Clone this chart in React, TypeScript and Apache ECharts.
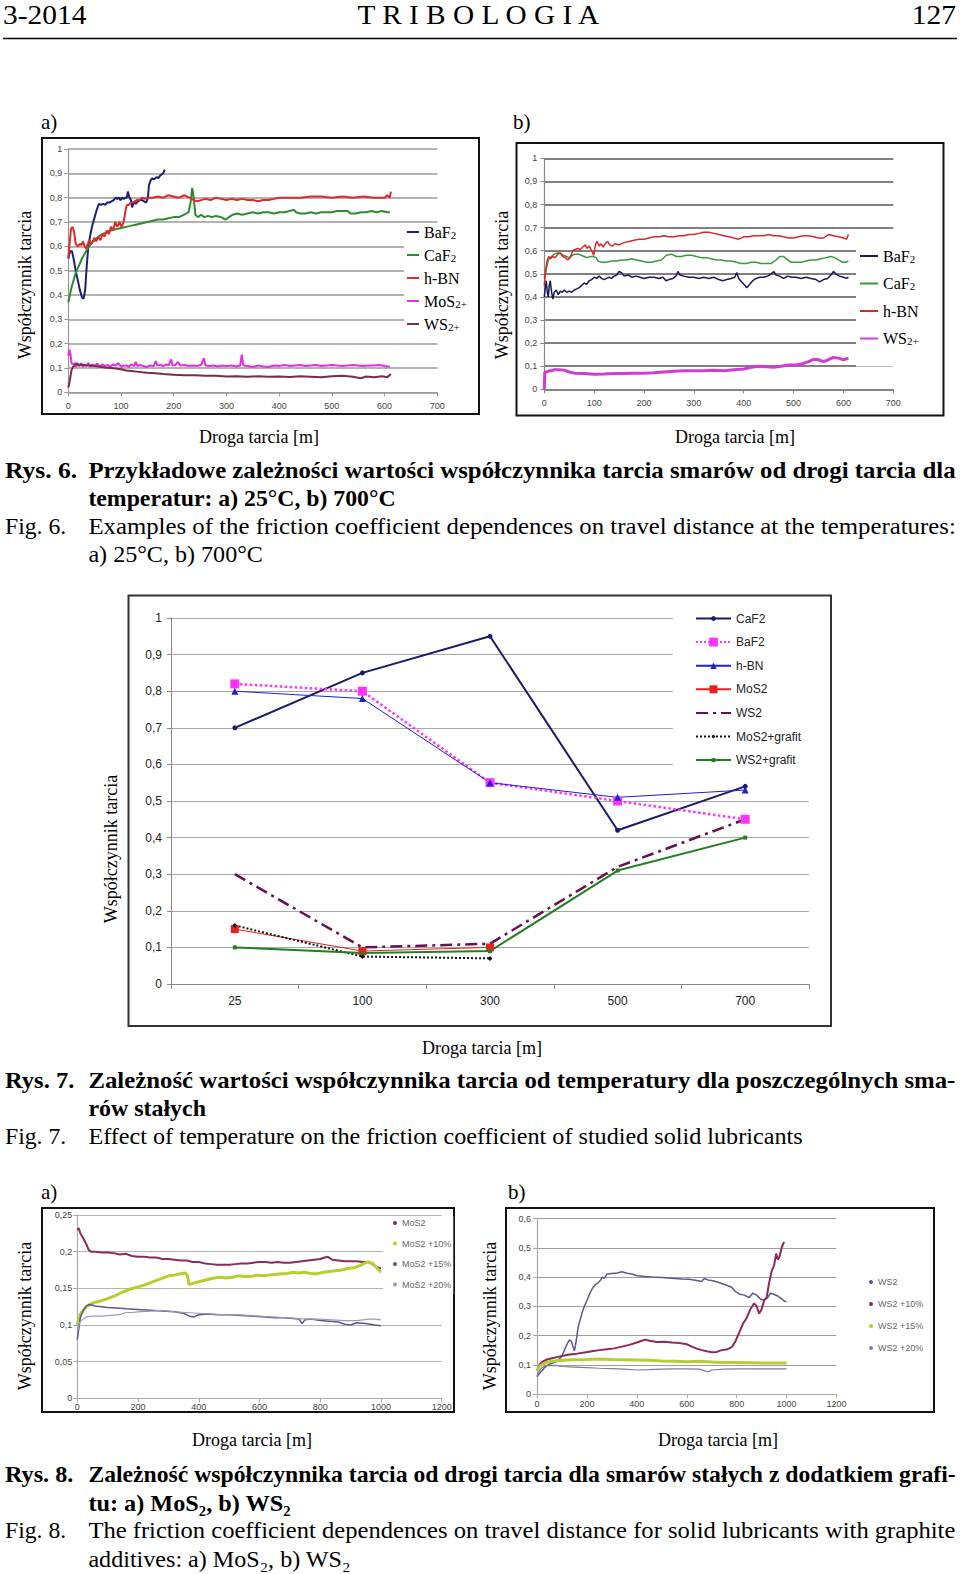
import React, { useEffect, useRef } from 'react';
import * as echarts from 'echarts';

type P = [number, number];

const SERIF = "'Liberation Serif', 'Times New Roman', serif";
const SANS = "'Liberation Sans', Arial, sans-serif";

// ---------- Fig. 6a (25 °C) ----------
const f6aBaF2: P[] = [[0,0.55],[2,0.57],[4,0.58],[7,0.58],[10,0.55],[14,0.5],[18,0.46],[22,0.42],[26,0.39],[29,0.385],[32,0.42],[35,0.52],[38,0.6],[42,0.65],[46,0.69],[50,0.72],[54,0.75],[58,0.775],[62,0.77],[66,0.775],[70,0.77],[74,0.78],[78,0.78],[82,0.785],[86,0.79],[90,0.8],[93,0.795],[96,0.8],[99,0.79],[102,0.8],[105,0.795],[108,0.8],[111,0.8],[113,0.825],[116,0.8],[119,0.79],[121,0.76],[124,0.78],[128,0.775],[132,0.785],[136,0.79],[140,0.79],[144,0.785],[148,0.78],[151,0.8],[153,0.85],[156,0.87],[159,0.88],[162,0.875],[165,0.88],[168,0.885],[171,0.88],[174,0.89],[177,0.895],[180,0.9],[183,0.915]];
const f6aCaF2: P[] = [[0,0.37],[3,0.4],[6,0.43],[10,0.46],[14,0.49],[18,0.51],[22,0.53],[26,0.55],[30,0.565],[35,0.585],[40,0.6],[45,0.615],[50,0.625],[55,0.635],[60,0.645],[65,0.65],[70,0.655],[75,0.66],[80,0.665],[90,0.67],[100,0.675],[110,0.68],[120,0.685],[130,0.69],[140,0.695],[150,0.7],[160,0.705],[170,0.71],[180,0.71],[190,0.715],[200,0.72],[210,0.72],[220,0.73],[228,0.74],[232,0.78],[235,0.84],[238,0.8],[241,0.73],[246,0.72],[252,0.73],[258,0.72],[265,0.725],[272,0.72],[280,0.725],[290,0.72],[298,0.71],[305,0.72],[312,0.73],[320,0.735],[330,0.73],[340,0.735],[350,0.74],[360,0.735],[370,0.74],[380,0.74],[390,0.735],[400,0.74],[410,0.74],[420,0.745],[428,0.75],[432,0.74],[440,0.735],[450,0.735],[460,0.74],[470,0.735],[480,0.74],[490,0.74],[500,0.74],[510,0.745],[520,0.745],[530,0.745],[535,0.735],[545,0.735],[555,0.74],[565,0.74],[575,0.745],[585,0.74],[595,0.745],[605,0.74],[610,0.74]];
const f6aHBN: P[] = [[0,0.55],[2,0.6],[5,0.67],[8,0.68],[11,0.66],[14,0.61],[18,0.6],[22,0.61],[25,0.605],[28,0.62],[31,0.6],[34,0.59],[37,0.61],[40,0.625],[43,0.61],[46,0.62],[50,0.635],[53,0.62],[57,0.64],[61,0.625],[65,0.65],[69,0.64],[73,0.665],[77,0.65],[81,0.68],[85,0.665],[89,0.7],[93,0.68],[97,0.7],[101,0.68],[105,0.7],[108,0.74],[111,0.77],[115,0.77],[118,0.78],[122,0.78],[126,0.785],[130,0.79],[135,0.79],[140,0.8],[145,0.795],[150,0.8],[160,0.8],[170,0.805],[180,0.8],[190,0.81],[200,0.805],[210,0.8],[220,0.81],[230,0.8],[238,0.79],[245,0.785],[252,0.79],[260,0.795],[270,0.79],[280,0.8],[290,0.795],[300,0.79],[310,0.795],[320,0.79],[330,0.795],[340,0.79],[350,0.79],[360,0.785],[370,0.79],[380,0.79],[390,0.795],[400,0.8],[420,0.8],[440,0.8],[460,0.805],[480,0.805],[500,0.8],[520,0.805],[540,0.8],[560,0.805],[580,0.8],[600,0.8],[605,0.81],[610,0.8],[612,0.825]];
const f6aMoS2: P[] = [[0,0.15],[2,0.175],[4,0.16],[6,0.12],[9,0.115],[12,0.12],[15,0.105],[18,0.118],[21,0.108],[24,0.12],[27,0.105],[30,0.115],[34,0.11],[38,0.12],[42,0.105],[46,0.115],[50,0.108],[55,0.118],[60,0.105],[65,0.115],[70,0.108],[75,0.112],[80,0.105],[85,0.115],[90,0.11],[95,0.12],[100,0.105],[105,0.11],[110,0.11],[115,0.105],[120,0.115],[125,0.108],[128,0.125],[131,0.108],[136,0.112],[142,0.108],[148,0.104],[155,0.11],[162,0.108],[166,0.128],[169,0.11],[175,0.112],[180,0.108],[186,0.115],[190,0.11],[195,0.135],[198,0.11],[203,0.112],[208,0.125],[212,0.11],[220,0.112],[228,0.108],[236,0.11],[244,0.108],[252,0.112],[257,0.14],[260,0.11],[268,0.108],[276,0.11],[284,0.106],[292,0.11],[300,0.108],[310,0.11],[318,0.106],[326,0.11],[329,0.155],[332,0.11],[340,0.108],[350,0.104],[360,0.11],[370,0.106],[380,0.104],[390,0.11],[400,0.108],[410,0.112],[420,0.108],[430,0.11],[440,0.112],[450,0.108],[460,0.11],[470,0.112],[480,0.108],[490,0.11],[500,0.112],[510,0.11],[520,0.108],[530,0.11],[540,0.112],[550,0.11],[560,0.108],[570,0.11],[580,0.11],[590,0.112],[600,0.108],[610,0.105]];
const f6aWS2: P[] = [[0,0.02],[3,0.05],[6,0.09],[9,0.105],[12,0.11],[16,0.12],[20,0.11],[25,0.115],[30,0.11],[40,0.11],[50,0.108],[60,0.105],[70,0.102],[80,0.1],[90,0.098],[100,0.095],[110,0.09],[120,0.088],[130,0.085],[140,0.082],[150,0.08],[165,0.078],[180,0.075],[200,0.072],[220,0.07],[240,0.07],[260,0.068],[280,0.068],[300,0.065],[320,0.066],[340,0.064],[360,0.066],[380,0.064],[400,0.065],[420,0.063],[440,0.066],[460,0.064],[480,0.062],[500,0.066],[520,0.068],[540,0.064],[555,0.058],[565,0.065],[580,0.062],[595,0.066],[605,0.062],[612,0.075]];

// ---------- Fig. 6b (700 °C) ----------
const f6bHBN: P[] = [[0,0.45],[3,0.52],[6,0.56],[9,0.575],[13,0.565],[17,0.575],[22,0.57],[27,0.585],[32,0.59],[37,0.575],[42,0.57],[47,0.56],[52,0.57],[57,0.6],[62,0.605],[67,0.61],[72,0.605],[77,0.615],[82,0.625],[86,0.61],[90,0.62],[95,0.6],[99,0.58],[103,0.63],[106,0.64],[110,0.62],[114,0.63],[118,0.615],[122,0.63],[127,0.64],[131,0.625],[136,0.62],[142,0.63],[150,0.625],[160,0.635],[170,0.64],[180,0.645],[190,0.65],[200,0.65],[210,0.655],[220,0.66],[230,0.66],[240,0.665],[250,0.66],[260,0.66],[270,0.665],[280,0.665],[290,0.67],[300,0.67],[310,0.675],[320,0.68],[330,0.68],[340,0.675],[350,0.67],[360,0.665],[370,0.66],[380,0.655],[390,0.65],[400,0.66],[410,0.66],[420,0.665],[430,0.665],[440,0.665],[450,0.67],[460,0.665],[470,0.665],[480,0.66],[490,0.655],[500,0.655],[510,0.66],[520,0.665],[530,0.665],[540,0.66],[550,0.655],[560,0.655],[570,0.67],[580,0.665],[590,0.66],[600,0.655],[606,0.65],[610,0.67]];
const f6bCaF2: P[] = [[0,0.48],[4,0.52],[8,0.56],[14,0.575],[20,0.585],[26,0.59],[32,0.59],[38,0.58],[44,0.575],[50,0.57],[56,0.58],[62,0.585],[68,0.585],[74,0.58],[80,0.575],[86,0.57],[92,0.575],[98,0.575],[104,0.57],[108,0.555],[115,0.55],[125,0.55],[135,0.555],[145,0.555],[155,0.56],[165,0.56],[175,0.565],[185,0.56],[195,0.555],[205,0.55],[215,0.55],[225,0.555],[235,0.56],[245,0.58],[255,0.585],[265,0.575],[275,0.575],[285,0.58],[295,0.58],[305,0.575],[315,0.57],[325,0.57],[335,0.565],[345,0.56],[355,0.56],[365,0.555],[375,0.555],[385,0.55],[395,0.545],[405,0.545],[415,0.55],[425,0.55],[435,0.545],[445,0.545],[455,0.545],[465,0.56],[472,0.575],[480,0.575],[488,0.56],[495,0.55],[505,0.55],[515,0.55],[525,0.555],[535,0.56],[545,0.56],[555,0.565],[565,0.57],[575,0.575],[582,0.57],[590,0.56],[598,0.55],[605,0.55],[610,0.555]];
const f6bBaF2: P[] = [[0,0.4],[2,0.44],[4,0.47],[6,0.42],[8,0.4],[10,0.45],[12,0.47],[14,0.43],[17,0.39],[20,0.42],[24,0.43],[28,0.41],[32,0.425],[36,0.42],[40,0.43],[45,0.42],[50,0.425],[55,0.42],[60,0.43],[65,0.435],[70,0.44],[75,0.45],[80,0.46],[85,0.455],[90,0.47],[95,0.475],[100,0.485],[105,0.48],[110,0.49],[115,0.48],[120,0.475],[125,0.48],[130,0.485],[135,0.48],[140,0.49],[145,0.495],[150,0.51],[155,0.505],[160,0.49],[168,0.495],[176,0.485],[184,0.49],[192,0.485],[200,0.48],[210,0.485],[220,0.485],[230,0.48],[238,0.485],[244,0.47],[250,0.475],[258,0.48],[264,0.49],[268,0.51],[272,0.495],[280,0.49],[290,0.485],[300,0.485],[310,0.48],[320,0.485],[330,0.48],[340,0.485],[350,0.475],[358,0.47],[366,0.475],[375,0.48],[382,0.485],[386,0.505],[390,0.48],[396,0.465],[402,0.45],[406,0.44],[412,0.455],[418,0.47],[425,0.48],[432,0.485],[440,0.485],[448,0.49],[455,0.5],[460,0.51],[465,0.495],[472,0.49],[480,0.48],[488,0.49],[496,0.485],[505,0.485],[515,0.48],[525,0.485],[535,0.48],[545,0.475],[552,0.465],[560,0.475],[568,0.48],[575,0.495],[580,0.51],[585,0.5],[592,0.49],[600,0.485],[606,0.48],[610,0.485]];
const f6bWS2: P[] = [[0,0],[1,0.075],[5,0.075],[10,0.08],[15,0.08],[20,0.085],[30,0.085],[40,0.083],[50,0.075],[60,0.07],[80,0.068],[100,0.065],[120,0.066],[140,0.068],[160,0.068],[180,0.07],[200,0.07],[220,0.072],[240,0.075],[260,0.078],[280,0.08],[300,0.08],[320,0.08],[340,0.082],[360,0.08],[380,0.085],[400,0.088],[415,0.095],[430,0.1],[445,0.098],[460,0.095],[475,0.1],[490,0.105],[505,0.105],[520,0.112],[530,0.12],[540,0.13],[550,0.128],[560,0.12],[570,0.128],[580,0.138],[590,0.135],[600,0.128],[610,0.135]];

// ---------- Fig. 7 ----------
const f7Temps = ['25', '100', '300', '500', '700'];
const f7CaF2 = [0.7, 0.85, 0.95, 0.42, 0.54];
const f7BaF2 = [0.82, 0.8, 0.55, 0.5, 0.45];
const f7HBN = [0.8, 0.78, 0.55, 0.51, 0.53];
const f7MoS2 = [0.15, 0.09, 0.1];
const f7WS2 = [0.3, 0.1, 0.11, 0.32, 0.45];
const f7MoS2G = [0.16, 0.075, 0.07];
const f7WS2G = [0.1, 0.085, 0.09, 0.31, 0.4];

// ---------- Fig. 8a (MoS2 + graphite) ----------
const f8aMoS2: P[] = [[0,0.23],[5,0.232],[10,0.225],[20,0.218],[30,0.21],[38,0.202],[45,0.2],[60,0.2],[80,0.199],[100,0.199],[120,0.198],[140,0.196],[160,0.197],[180,0.194],[200,0.193],[220,0.193],[240,0.192],[260,0.192],[280,0.19],[300,0.19],[320,0.189],[340,0.188],[360,0.188],[380,0.186],[400,0.186],[420,0.184],[440,0.183],[460,0.182],[480,0.182],[500,0.182],[520,0.183],[540,0.184],[560,0.184],[580,0.185],[600,0.186],[620,0.186],[640,0.185],[660,0.186],[680,0.185],[700,0.185],[720,0.186],[740,0.187],[760,0.188],[780,0.189],[800,0.19],[815,0.192],[825,0.193],[840,0.189],[860,0.188],[880,0.187],[900,0.187],[920,0.187],[940,0.186],[960,0.186],[975,0.182],[990,0.178],[1000,0.177]];
const f8aMoS2_10: P[] = [[0,0.1],[5,0.108],[10,0.115],[20,0.12],[30,0.125],[50,0.13],[70,0.132],[100,0.136],[125,0.14],[150,0.145],[175,0.149],[200,0.152],[225,0.155],[250,0.159],[275,0.163],[300,0.167],[320,0.168],[340,0.17],[355,0.171],[362,0.168],[368,0.155],[375,0.156],[390,0.158],[410,0.16],[430,0.162],[450,0.164],[470,0.165],[490,0.164],[510,0.165],[530,0.167],[550,0.166],[570,0.166],[590,0.168],[610,0.167],[630,0.168],[650,0.169],[670,0.17],[690,0.17],[710,0.172],[730,0.171],[750,0.172],[770,0.17],[790,0.17],[810,0.172],[830,0.173],[850,0.174],[870,0.175],[890,0.177],[910,0.178],[930,0.181],[950,0.185],[960,0.186],[975,0.183],[990,0.176],[1000,0.172]];
const f8aMoS2_15: P[] = [[0,0.08],[5,0.095],[10,0.11],[20,0.12],[30,0.126],[40,0.128],[60,0.126],[80,0.125],[100,0.124],[130,0.123],[160,0.122],[200,0.121],[240,0.12],[280,0.119],[320,0.118],[350,0.116],[370,0.112],[385,0.111],[400,0.114],[430,0.115],[460,0.114],[500,0.114],[540,0.113],[580,0.112],[620,0.111],[650,0.11],[680,0.11],[710,0.109],[730,0.108],[740,0.102],[750,0.107],[770,0.108],[800,0.106],[830,0.105],[860,0.104],[880,0.101],[900,0.1],[920,0.103],[950,0.102],[980,0.1],[1000,0.099]];
const f8aMoS2_20: P[] = [[0,0.09],[5,0.1],[10,0.105],[20,0.108],[30,0.111],[50,0.112],[80,0.112],[110,0.113],[140,0.114],[160,0.117],[180,0.117],[200,0.118],[240,0.119],[280,0.12],[320,0.118],[360,0.117],[400,0.116],[440,0.115],[480,0.114],[520,0.114],[560,0.113],[600,0.112],[640,0.111],[680,0.11],[720,0.109],[760,0.108],[800,0.108],[840,0.107],[880,0.106],[920,0.106],[960,0.108],[980,0.108],[1000,0.107]];

// ---------- Fig. 8b (WS2 + graphite) ----------
const f8bWS2: P[] = [[0,0.06],[10,0.07],[20,0.08],[30,0.09],[45,0.1],[60,0.105],[75,0.11],[90,0.12],[100,0.13],[110,0.15],[120,0.17],[130,0.185],[138,0.18],[145,0.16],[150,0.148],[155,0.17],[165,0.23],[175,0.26],[185,0.29],[195,0.31],[205,0.33],[215,0.35],[225,0.365],[235,0.375],[245,0.38],[255,0.39],[262,0.4],[270,0.395],[280,0.41],[300,0.412],[320,0.414],[340,0.418],[360,0.413],[380,0.41],[400,0.404],[430,0.402],[460,0.4],[500,0.398],[540,0.396],[580,0.393],[610,0.392],[640,0.388],[660,0.385],[670,0.395],[685,0.39],[700,0.388],[720,0.384],[740,0.378],[760,0.372],[780,0.365],[795,0.35],[810,0.342],[830,0.338],[850,0.33],[865,0.345],[880,0.338],[895,0.325],[910,0.32],[925,0.33],[935,0.345],[950,0.34],[965,0.335],[980,0.325],[990,0.318],[1000,0.315]];
const f8bWS2_10: P[] = [[0,0.08],[10,0.1],[20,0.11],[40,0.118],[60,0.122],[80,0.126],[100,0.13],[130,0.135],[160,0.138],[190,0.142],[220,0.146],[250,0.15],[280,0.153],[310,0.156],[340,0.162],[370,0.168],[400,0.176],[420,0.182],[435,0.186],[450,0.182],[480,0.178],[510,0.179],[540,0.176],[570,0.174],[600,0.17],[620,0.162],[640,0.155],[660,0.15],[680,0.146],[700,0.143],[720,0.144],[740,0.15],[760,0.152],[780,0.16],[795,0.18],[810,0.21],[825,0.24],[840,0.26],[855,0.29],[870,0.31],[880,0.3],[890,0.275],[900,0.29],[910,0.32],[920,0.33],[930,0.38],[940,0.42],[950,0.44],[958,0.48],[965,0.46],[972,0.47],[980,0.5],[990,0.52]];
const f8bWS2_15: P[] = [[0,0.08],[10,0.095],[20,0.1],[40,0.108],[60,0.112],[100,0.115],[150,0.117],[200,0.118],[250,0.12],[300,0.118],[350,0.117],[400,0.116],[450,0.115],[500,0.113],[550,0.112],[600,0.11],[650,0.112],[700,0.109],[750,0.108],[800,0.108],[850,0.107],[900,0.106],[950,0.106],[1000,0.106]];
const f8bWS2_20: P[] = [[0,0.06],[10,0.08],[20,0.09],[40,0.097],[60,0.098],[80,0.097],[100,0.094],[150,0.092],[200,0.09],[250,0.088],[300,0.087],[350,0.085],[400,0.082],[450,0.083],[500,0.085],[550,0.086],[600,0.086],[650,0.085],[670,0.08],[685,0.075],[700,0.082],[750,0.085],[800,0.086],[850,0.086],[900,0.086],[950,0.086],[1000,0.086]];

const C = {
  navy: '#1c1f78', green: '#2e8c2e', red: '#e02a2a', magenta: '#e030e0', maroon: '#7a2c4c',
  navyB: '#1a1a5c', greenB: '#3a9a3a', redB: '#d42a2a', magentaB: '#d23cd2',
  f8dark: '#5a5a8c', f8wine: '#8c2a5a', f8lime: '#b4d02e', f8light: '#9c9abc', f8gray: '#7c7c9c',
};

const comma = (v: number) => String(Math.round(v * 1000) / 1000).replace('.', ',');

let ctx: CanvasRenderingContext2D | null = null;
function measure(text: string, font: string): number {
  if (!ctx) ctx = document.createElement('canvas').getContext('2d');
  if (!ctx) return text.length * 10;
  ctx.font = font;
  return ctx.measureText(text).width;
}

function fitText(text: string, x0: number, x1: number, yc: number, size: number, bold: boolean, justify: boolean) {
  const weight = bold ? 'bold' : 'normal';
  const w = measure(text, `${weight} ${size}px "Liberation Serif"`);
  let s = (x1 - x0) / w;
  if (!justify) s = Math.min(Math.max(s, 0.9), 1.12);
  return {
    type: 'text', x: x0, y: yc, scaleX: s, silent: true,
    style: { text, fontSize: size, fontWeight: weight, fontFamily: SERIF, fill: '#000', align: 'left', verticalAlign: 'middle' },
  };
}

function plainText(text: string, x: number, y: number, size: number, align = 'left', rotation = 0) {
  return {
    type: 'text', x, y, rotation, silent: true,
    style: { text, fontSize: size, fontFamily: SERIF, fill: '#000', align, verticalAlign: 'middle' },
  };
}

function frame(x: number, y: number, w: number, h: number, color = '#111') {
  return { type: 'rect', silent: true, shape: { x, y, width: w, height: h }, style: { fill: 'none', stroke: color, lineWidth: 2 } };
}

const smallLabel = { fontFamily: SANS, fontSize: 9, color: '#444' };

function valX(gi: number, max: number, interval: number, margin: number, color: string) {
  return {
    type: 'value', gridIndex: gi, min: 0, max, interval,
    axisLine: { show: true, onZero: false, lineStyle: { color, width: 1.2 } },
    axisTick: { show: true, length: 4, lineStyle: { color } },
    axisLabel: { ...smallLabel, margin, formatter: (v: number) => String(v) },
    splitLine: { show: false },
  };
}
function valY(gi: number, max: number, interval: number, margin: number, color: string, gridColor: string, gridWidth: number) {
  return {
    type: 'value', gridIndex: gi, min: 0, max, interval,
    axisLine: { show: true, lineStyle: { color, width: 1.2 } },
    axisTick: { show: true, length: 4, lineStyle: { color } },
    axisLabel: { ...smallLabel, margin, formatter: comma },
    splitLine: { show: true, lineStyle: { color: gridColor, width: gridWidth } },
  };
}

function noisy(name: string, gi: number, data: P[], color: string, width: number) {
  return {
    name, type: 'line', xAxisIndex: gi, yAxisIndex: gi, data,
    symbol: 'none', showSymbol: false, silent: true,
    itemStyle: { color }, lineStyle: { color, width },
  };
}

function cat(name: string, data: number[], color: string, width: number, lineType: any, symbol: string, symbolSize: number) {
  return {
    name, type: 'line', xAxisIndex: 2, yAxisIndex: 2, data,
    symbol, symbolSize, showSymbol: symbol !== 'none', silent: true,
    itemStyle: { color }, lineStyle: { color, width, type: lineType },
  };
}

const subFmt = (name: string) => {
  const m = name.match(/^(.*?)(2\+?)$/);
  if (m) return `{n|${m[1]}}{s|${m[2]}}`;
  return `{n|${name}}`;
};

function legend6(left: number, top: number, padding: number[], itemWidth: number, gap: number, items: [string, string][]) {
  return {
    orient: 'vertical', left, top, padding, backgroundColor: '#fff', icon: 'rect',
    itemWidth, itemHeight: 2, itemGap: gap, selectedMode: false, formatter: subFmt,
    textStyle: {
      fontFamily: SERIF, fontSize: 16, color: '#000', lineHeight: 16,
      rich: {
        n: { fontFamily: SERIF, fontSize: 16, lineHeight: 16, color: '#000' },
        s: { fontFamily: SERIF, fontSize: 11, lineHeight: 9, verticalAlign: 'bottom', color: '#000' },
      },
    },
    data: items.map(([name, color]) => ({ name, itemStyle: { color } })),
  };
}

function legend8(left: number, top: number, padding: number[], gap: number, items: [string, string][], bg: boolean) {
  return {
    orient: 'vertical', left, top, padding, backgroundColor: bg ? '#fff' : 'transparent', icon: 'circle',
    itemWidth: 4, itemHeight: 4, itemGap: gap, selectedMode: false,
    textStyle: { fontFamily: SANS, fontSize: 9, color: '#666', lineHeight: 12 },
    data: items.map(([name, color]) => ({ name, itemStyle: { color } })),
  };
}

// Fig. 7 legend: one component per row so each row gets its own marker size
const f7LegendRows: [string, number][] = [
  ['CaF2', 6], ['BaF2', 11], ['h-BN', 8], ['MoS2', 10], ['WS2', 10], ['MoS2+grafit', 5], ['WS2+grafit', 5],
];
function legend7() {
  return f7LegendRows.map(([name, ih], i) => {
    const yc = 618.5 + i * 23.6;
    const h = Math.max(ih, 14);
    return {
      orient: 'vertical', left: 695, top: yc - h / 2, padding: 0,
      itemWidth: 35, itemHeight: ih, selectedMode: false,
      textStyle: { fontFamily: SANS, fontSize: 12, color: '#222', lineHeight: 14 },
      data: [name === 'WS2' ? { name, itemStyle: { opacity: 0 } } : { name }],
    };
  });
}

function buildOption() {
  const graphic: any[] = [
    // header
    fitText('3-2014', 3, 86.4, 14.5, 27, false, false),
    fitText('T R I B O L O G I A', 357.5, 602.5, 14.5, 27, false, true),
    fitText('127', 911.8, 956, 14.5, 27, false, false),
    { type: 'line', silent: true, shape: { x1: 3, y1: 38.5, x2: 957, y2: 38.5 }, style: { stroke: '#000', lineWidth: 1.5 } },
    plainText('a)', 41, 121.5, 21),
    plainText('b)', 513, 121.5, 21),
    // cover for grid lines behind the Fig. 7 legend
    { type: 'rect', silent: true, z: 1, shape: { x: 673, y: 601, width: 137, height: 172 }, style: { fill: '#fff' } },
    // frames
    frame(42, 138, 437, 276),
    frame(516.5, 143, 427, 272.5),
    frame(128.5, 595.5, 702.5, 430.5, '#333'),
    frame(42, 1208, 412, 204),
    frame(506, 1208, 428, 204),
    // axis titles
    plainText('Współczynnik tarcia', 25, 285, 18, 'center', Math.PI / 2),
    plainText('Współczynnik tarcia', 502, 285, 18, 'center', Math.PI / 2),
    plainText('Droga tarcia [m]', 259, 436.5, 18, 'center'),
    plainText('Droga tarcia [m]', 735, 436.5, 18, 'center'),
    plainText('Współczynnik tarcia', 110.5, 849, 18, 'center', Math.PI / 2),
    plainText('Droga tarcia [m]', 482, 1048, 18, 'center'),
    plainText('a)', 41, 1191.5, 21),
    plainText('b)', 508, 1191.5, 21),
    plainText('Współczynnik tarcia', 25, 1316, 18, 'center', Math.PI / 2),
    plainText('Współczynnik tarcia', 490, 1316, 18, 'center', Math.PI / 2),
    plainText('Droga tarcia [m]', 252, 1440, 18, 'center'),
    plainText('Droga tarcia [m]', 718, 1440, 18, 'center'),
    // captions
    fitText('Rys. 6.', 5, 77.3, 470, 23, true, false),
    fitText('Przykładowe zależności wartości współczynnika tarcia smarów od drogi tarcia dla', 88.4, 956, 470, 23, true, true),
    fitText('temperatur: a) 25°C, b) 700°C', 88.4, 395.6, 498, 23, true, false),
    fitText('Fig. 6.', 5, 66.3, 526, 23, false, false),
    fitText('Examples of the friction coefficient dependences on travel distance at the temperatures:', 88.4, 956, 526, 23, false, true),
    fitText('a) 25°C, b) 700°C', 88.4, 263, 554, 23, false, false),
    fitText('Rys. 7.', 5, 74.3, 1080, 23, true, false),
    fitText('Zależność wartości współczynnika tarcia od temperatury dla poszczególnych sma-', 88.4, 956, 1080, 23, true, true),
    fitText('rów stałych', 88.4, 206, 1108, 23, true, false),
    fitText('Fig. 7.', 5, 66.3, 1136, 23, false, false),
    fitText('Effect of temperature on the friction coefficient of studied solid lubricants', 88.4, 803, 1136, 23, false, false),
    fitText('Rys. 8.', 5, 73.3, 1474, 23, true, false),
    fitText('Zależność współczynnika tarcia od drogi tarcia dla smarów stałych z dodatkiem grafi-', 88.4, 956, 1474, 23, true, true),
    fitText('tu: a) MoS₂, b) WS₂', 88.4, 291, 1503, 23, true, false),
    fitText('Fig. 8.', 5, 66.3, 1530, 23, false, false),
    fitText('The friction coefficient dependences on travel distance for solid lubricants with graphite', 88.4, 956, 1530, 23, false, true),
    fitText('additives: a) MoS₂, b) WS₂', 88.4, 351, 1559, 23, false, false),
  ];

  return {
    animation: false,
    backgroundColor: '#fff',
    grid: [
      { left: 68.3, top: 149, width: 369, height: 243.3 },
      { left: 544.3, top: 158.3, width: 349, height: 231 },
      { left: 171, top: 618, width: 638, height: 366 },
      { left: 77.3, top: 1215, width: 364.4, height: 183.3 },
      { left: 537, top: 1218.5, width: 299.5, height: 175.5 },
    ],
    xAxis: [
      valX(0, 700, 100, 9, '#999'),
      valX(1, 700, 100, 9, '#888'),
      {
        type: 'category', gridIndex: 2, data: f7Temps, boundaryGap: true,
        axisLine: { show: true, lineStyle: { color: '#888' } },
        axisTick: { show: true, length: 5, alignWithLabel: false, lineStyle: { color: '#888' } },
        axisLabel: { fontFamily: SANS, fontSize: 12, color: '#222', margin: 11 },
        splitLine: { show: false },
      },
      valX(3, 1200, 200, 4, '#aaa'),
      valX(4, 1200, 200, 5, '#aaa'),
    ],
    yAxis: [
      valY(0, 1, 0.1, 6, '#999', '#9a9a9a', 1.5),
      valY(1, 1, 0.1, 7, '#888', '#808080', 2),
      {
        type: 'value', gridIndex: 2, min: 0, max: 1, interval: 0.1,
        axisLine: { show: true, lineStyle: { color: '#888' } },
        axisTick: { show: true, length: 4, lineStyle: { color: '#888' } },
        axisLabel: { fontFamily: SANS, fontSize: 12, color: '#222', margin: 9, formatter: comma },
        splitLine: { show: true, lineStyle: { color: '#a8a8a8', width: 1 } },
      },
      valY(3, 0.25, 0.05, 5, '#aaa', '#b4b4b4', 1.2),
      valY(4, 0.6, 0.1, 6, '#aaa', '#9c9c9c', 1.2),
    ],
    legend: [
      ...legend7(),
      legend6(404, 223, [1, 4, 4, 3], 12, 7, [['BaF2', C.navy], ['CaF2', C.green], ['h-BN', C.red], ['MoS2+', C.magenta], ['WS2+', C.maroon]]),
      legend6(856, 238, [10, 4, 20, 4], 18, 11.5, [['BaF2', C.navyB], ['CaF2', C.greenB], ['h-BN', C.redB], ['WS2+', C.magentaB]]),
      legend8(383, 1216, [1, 2, 4, 10], 8.5, [['MoS2', C.f8wine], ['MoS2 +10%', C.f8lime], ['MoS2 +15%', C.f8dark], ['MoS2 +20%', C.f8light]], true),
      legend8(869, 1276, [0, 0, 0, 0], 10, [['WS2', C.f8dark], ['WS2 +10%', C.f8wine], ['WS2 +15%', C.f8lime], ['WS2 +20%', C.f8gray]], false),
    ],
    series: [
      // Fig. 7 first (legend icons take style from first series of a name)
      cat('CaF2', f7CaF2, '#1b1b6b', 2, 'solid', 'circle', 5),
      cat('BaF2', f7BaF2, '#ff33ff', 2.5, 'dotted', 'rect', 9),
      cat('h-BN', f7HBN, '#2020d0', 1, 'solid', 'triangle', 7),
      cat('MoS2', f7MoS2, '#e82020', 1, 'solid', 'rect', 8),
      cat('WS2', f7WS2, '#6a1050', 2.5, [12, 5, 3, 5], 'none', 0),
      cat('MoS2+grafit', f7MoS2G, '#111111', 2, 'dotted', 'diamond', 5),
      cat('WS2+grafit', f7WS2G, '#208020', 2, 'solid', 'rect', 4),
      // Fig. 6a
      noisy('BaF2', 0, f6aBaF2, C.navy, 2),
      noisy('CaF2', 0, f6aCaF2, C.green, 2),
      noisy('h-BN', 0, f6aHBN, C.red, 2),
      noisy('MoS2+', 0, f6aMoS2, C.magenta, 2),
      noisy('WS2+', 0, f6aWS2, C.maroon, 2),
      // Fig. 6b
      noisy('BaF2', 1, f6bBaF2, C.navyB, 1.5),
      noisy('CaF2', 1, f6bCaF2, C.greenB, 1.5),
      noisy('h-BN', 1, f6bHBN, C.redB, 1.5),
      noisy('WS2+', 1, f6bWS2, C.magentaB, 3),
      // Fig. 8a
      noisy('MoS2', 3, f8aMoS2, C.f8wine, 2),
      noisy('MoS2 +10%', 3, f8aMoS2_10, C.f8lime, 3),
      noisy('MoS2 +15%', 3, f8aMoS2_15, C.f8dark, 1.5),
      noisy('MoS2 +20%', 3, f8aMoS2_20, C.f8light, 1.2),
      // Fig. 8b
      noisy('WS2', 4, f8bWS2, C.f8dark, 1.5),
      noisy('WS2 +10%', 4, f8bWS2_10, C.f8wine, 2),
      noisy('WS2 +15%', 4, f8bWS2_15, C.f8lime, 3),
      noisy('WS2 +20%', 4, f8bWS2_20, C.f8gray, 1.2),
    ],
    graphic,
  };
}

export default function App() {
  const ref = useRef<HTMLDivElement>(null);
  useEffect(() => {
    if (!ref.current) return;
    const chart = echarts.init(ref.current, null, { renderer: 'svg' });
    chart.setOption(buildOption() as any);
    return () => chart.dispose();
  }, []);
  return (
    <div
      ref={ref}
      style={{ position: 'absolute', left: 0, top: 0, width: 960, height: 1574, background: '#fff' }}
    />
  );
}
